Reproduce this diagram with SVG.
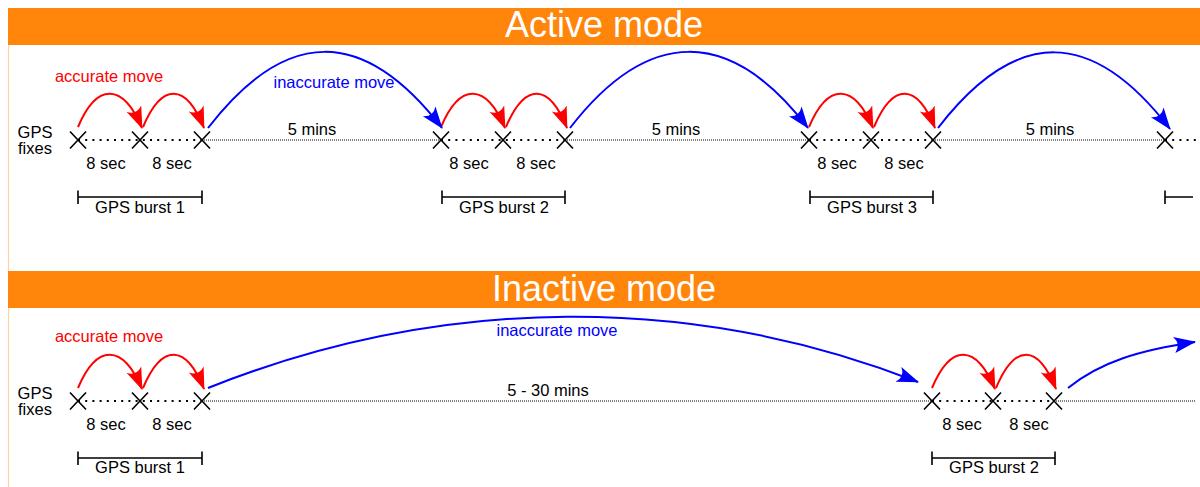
<svg xmlns="http://www.w3.org/2000/svg" width="1200" height="487" viewBox="0 0 1200 487">
<style>
  .banner { fill: #ff850b; }
  .btitle { font-family: "Liberation Sans", Arial, sans-serif; font-size: 36px; fill: #ffffff; text-anchor: middle; }
  .lbl { font-family: "Liberation Sans", Arial, sans-serif; font-size: 16.5px; fill: #000000; text-anchor: middle; }
  .red { font-family: "Liberation Sans", Arial, sans-serif; font-size: 16.5px; fill: #ff0000; text-anchor: middle; }
  .blue { font-family: "Liberation Sans", Arial, sans-serif; font-size: 16.5px; fill: #0000ff; text-anchor: middle; }
  .xm { stroke: #000; stroke-width: 1.6; fill: none; }
  .coarse { stroke: #000; stroke-width: 2; stroke-dasharray: 2 5.2; fill: none; }
  .fine { stroke: #000; stroke-width: 1.1; stroke-dasharray: 1 1; fill: none; }
  .brk { stroke: #000; stroke-width: 1.6; fill: none; }
  .rarc { stroke: #ff0000; stroke-width: 2; fill: none; marker-end: url(#ahr); }
  .barc { stroke: #0000ff; stroke-width: 2; fill: none; marker-end: url(#ahb); }
  .edge { stroke: #ffd3a6; stroke-width: 1.2; fill: none; }
</style>
<defs>
  <marker id="ahr" markerUnits="userSpaceOnUse" orient="auto" refX="0" refY="0" markerWidth="26" markerHeight="18" overflow="visible">
    <path d="M1,0 L-21,-8 Q-14,0 -21,8 Z" fill="#ff0000"/>
  </marker>
  <marker id="ahb" markerUnits="userSpaceOnUse" orient="auto" refX="0" refY="0" markerWidth="26" markerHeight="18" overflow="visible">
    <path d="M1,0 L-21,-8 Q-14,0 -21,8 Z" fill="#0000ff"/>
  </marker>
  <path id="xmark" d="M-8,-8.5 L8,8.5 M-8,8.5 L8,-8.5"/>
</defs>
<rect width="1200" height="487" fill="#ffffff"/>

<g id="frame">
  <line class="edge" x1="8.5" y1="45" x2="8.5" y2="271"/>
  <line class="edge" x1="8.5" y1="308" x2="8.5" y2="487"/>
</g>

<g id="banner-active">
  <rect class="banner" x="8" y="8" width="1192" height="37"/>
  <text class="btitle" x="604" y="37">Active mode</text>
</g>
<g id="banner-inactive">
  <rect class="banner" x="8" y="271" width="1192" height="37"/>
  <text class="btitle" x="604" y="301">Inactive mode</text>
</g>

<!-- Active mode timeline -->
<g id="timeline-active">
  <line class="coarse" x1="78" y1="140" x2="202" y2="140"/>
  <line class="fine" x1="202" y1="140" x2="441" y2="140"/>
  <line class="coarse" x1="441" y1="140" x2="565" y2="140"/>
  <line class="fine" x1="565" y1="140" x2="809" y2="140"/>
  <line class="coarse" x1="809" y1="140" x2="933" y2="140"/>
  <line class="fine" x1="933" y1="140" x2="1165" y2="140"/>
  <line class="coarse" x1="1165" y1="140" x2="1196" y2="140"/>
  <text class="lbl" x="35" y="138">GPS</text>
  <text class="lbl" x="35" y="154">fixes</text>
  <text class="lbl" x="312" y="135">5 mins</text>
  <text class="lbl" x="676" y="135">5 mins</text>
  <text class="lbl" x="1050" y="135">5 mins</text>
</g>

<g id="a-fix-1"><use href="#xmark" class="xm" x="78" y="140"/></g>
<g id="a-fix-2"><use href="#xmark" class="xm" x="140" y="140"/></g>
<g id="a-fix-3"><use href="#xmark" class="xm" x="202" y="140"/></g>
<g id="a-fix-4"><use href="#xmark" class="xm" x="441" y="140"/></g>
<g id="a-fix-5"><use href="#xmark" class="xm" x="503" y="140"/></g>
<g id="a-fix-6"><use href="#xmark" class="xm" x="565" y="140"/></g>
<g id="a-fix-7"><use href="#xmark" class="xm" x="809" y="140"/></g>
<g id="a-fix-8"><use href="#xmark" class="xm" x="871" y="140"/></g>
<g id="a-fix-9"><use href="#xmark" class="xm" x="933" y="140"/></g>
<g id="a-fix-10"><use href="#xmark" class="xm" x="1165" y="140"/></g>

<g id="a-burst-1">
  <text class="lbl" x="106" y="169">8 sec</text>
  <text class="lbl" x="172" y="169">8 sec</text>
  <path class="brk" d="M78,197 H202 M78,190.5 V204 M202,190.5 V204"/>
  <text class="lbl" x="140" y="213">GPS burst 1</text>
</g>
<g id="a-burst-2">
  <text class="lbl" x="469" y="169">8 sec</text>
  <text class="lbl" x="536" y="169">8 sec</text>
  <path class="brk" d="M442,197 H565 M442,190.5 V204 M565,190.5 V204"/>
  <text class="lbl" x="504" y="213">GPS burst 2</text>
</g>
<g id="a-burst-3">
  <text class="lbl" x="837" y="169">8 sec</text>
  <text class="lbl" x="904" y="169">8 sec</text>
  <path class="brk" d="M810,197 H933 M810,190.5 V204 M933,190.5 V204"/>
  <text class="lbl" x="872" y="213">GPS burst 3</text>
</g>
<g id="a-burst-4">
  <path class="brk" d="M1165,197 H1193 M1165,190.5 V204"/>
</g>

<!-- Inactive mode timeline -->
<g id="timeline-inactive">
  <line class="coarse" x1="78" y1="401" x2="202" y2="401"/>
  <line class="fine" x1="202" y1="401" x2="932" y2="401"/>
  <line class="coarse" x1="932" y1="401" x2="1054" y2="401"/>
  <line class="fine" x1="1054" y1="401" x2="1196" y2="401"/>
  <text class="lbl" x="35" y="399">GPS</text>
  <text class="lbl" x="35" y="415">fixes</text>
  <text class="lbl" x="548" y="396">5 - 30 mins</text>
</g>

<g id="i-fix-1"><use href="#xmark" class="xm" x="78" y="401"/></g>
<g id="i-fix-2"><use href="#xmark" class="xm" x="140" y="401"/></g>
<g id="i-fix-3"><use href="#xmark" class="xm" x="202" y="401"/></g>
<g id="i-fix-4"><use href="#xmark" class="xm" x="932" y="401"/></g>
<g id="i-fix-5"><use href="#xmark" class="xm" x="993" y="401"/></g>
<g id="i-fix-6"><use href="#xmark" class="xm" x="1054" y="401"/></g>

<g id="i-burst-1">
  <text class="lbl" x="106" y="430">8 sec</text>
  <text class="lbl" x="172" y="430">8 sec</text>
  <path class="brk" d="M78,458 H202 M78,451.5 V465 M202,451.5 V465"/>
  <text class="lbl" x="140" y="473">GPS burst 1</text>
</g>
<g id="i-burst-2">
  <text class="lbl" x="962" y="430">8 sec</text>
  <text class="lbl" x="1029" y="430">8 sec</text>
  <path class="brk" d="M932,458 H1055 M932,451.5 V465 M1055,451.5 V465"/>
  <text class="lbl" x="994" y="473">GPS burst 2</text>
</g>

<!-- Connectors -->
<g id="connectors">
  <!-- active: accurate moves -->
  <path class="rarc" d="M78,127 C97,82 123,83 142,128"/>
  <path class="rarc" d="M143,127 C162,82 186,83 204,128"/>
  <path class="rarc" d="M441,127 C460,82 486,83 505,128"/>
  <path class="rarc" d="M506,127 C525,82 549,83 567,128"/>
  <path class="rarc" d="M809,127 C828,82 854,83 873,128"/>
  <path class="rarc" d="M874,127 C893,82 917,83 935,128"/>
  <!-- active: inaccurate moves -->
  <path class="barc" d="M208,128 C286,27 363,26 442,128"/>
  <path class="barc" d="M570,128 C648,27 730,26 808,128"/>
  <path class="barc" d="M938,128 C1016,27 1092,27 1170,129"/>
  <text class="red" x="109" y="82">accurate move</text>
  <text class="blue" x="334" y="88">inaccurate move</text>

  <!-- inactive: accurate moves -->
  <path class="rarc" d="M78,388 C97,343 123,344 142,389"/>
  <path class="rarc" d="M143,388 C162,343 186,344 204,389"/>
  <path class="rarc" d="M932,388 C951,343 976,344 995,389"/>
  <path class="rarc" d="M996,388 C1015,343 1038,344 1056,389"/>
  <!-- inactive: inaccurate moves -->
  <path class="barc" d="M208,388 C443,294 694,294 918,382"/>
  <path class="barc" d="M1068,388 C1100,362 1140,350 1195,342"/>
  <text class="red" x="109" y="342">accurate move</text>
  <text class="blue" x="557" y="336">inaccurate move</text>
</g>
</svg>
